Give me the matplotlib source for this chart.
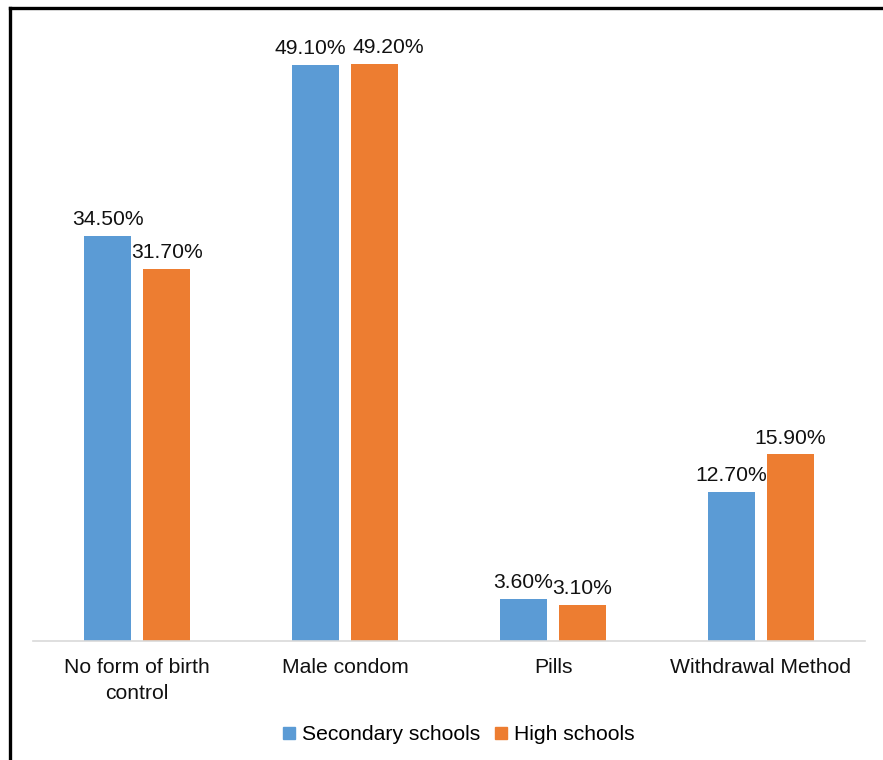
import matplotlib.pyplot as plt
import numpy as np
from matplotlib.lines import Line2D
from matplotlib.patches import Patch

categories = ["No form of birth\ncontrol", "Male condom", "Pills", "Withdrawal Method"]
secondary = [34.5, 49.1, 3.6, 12.7]
high = [31.7, 49.2, 3.1, 15.9]
series_names = ["Secondary schools", "High schools"]

BLUE = "#5B9BD5"
ORANGE = "#ED7D31"
FS = 15.2

plt.rcParams["font.family"] = ["Liberation Sans", "DejaVu Sans"]

fig = plt.figure(figsize=(8.83, 7.6), dpi=100)
ax = fig.add_axes([0.0374, 0.1566, 0.9422, 0.7717])

x = np.arange(len(categories))
width = 0.226
offset = 0.142
b1 = ax.bar(x - offset, secondary, width, color=BLUE, label=series_names[0])
b2 = ax.bar(x + offset, high, width, color=ORANGE, label=series_names[1])

# labels of the tallest pair sit too close together, nudge them apart (points)
nudge = {(0, 1): -4, (1, 1): 10}

for s, bars in enumerate((b1, b2)):
    for i, rect in enumerate(bars):
        h = rect.get_height()
        ax.annotate(f"{h:.2f}%", (rect.get_x() + rect.get_width() / 2, h),
                    xytext=(nudge.get((s, i), 0), 5), textcoords="offset points",
                    ha="center", va="bottom", fontsize=FS, color="#111111",
                    annotation_clip=False)

ax.set_xlim(-0.5, 3.5)
ax.set_ylim(0, 50)
ax.set_xticks(x)
ax.set_xticklabels(categories, fontsize=FS, color="#111111", linespacing=1.5)
ax.tick_params(axis="x", length=0, pad=12)
ax.set_yticks([])
for side in ("top", "right", "left"):
    ax.spines[side].set_visible(False)
ax.spines["bottom"].set_color("#D9D9D9")
ax.spines["bottom"].set_linewidth(1.2)

fig.legend(handles=[Patch(color=BLUE), Patch(color=ORANGE)], labels=series_names,
           loc="center", bbox_to_anchor=(0.52, 0.033), ncol=2, frameon=False,
           fontsize=FS, handlelength=0.55, handleheight=0.55, handletextpad=0.35,
           columnspacing=0.7)

# frame lines on top and left edges
fig.add_artist(Line2D([0.0113, 1.0], [0.9895, 0.9895], color="black", lw=2.4,
                      transform=fig.transFigure))
fig.add_artist(Line2D([0.0113, 0.0113], [0.0, 0.9895], color="black", lw=2.4,
                      transform=fig.transFigure))

fig.savefig("out.png", dpi=100)
